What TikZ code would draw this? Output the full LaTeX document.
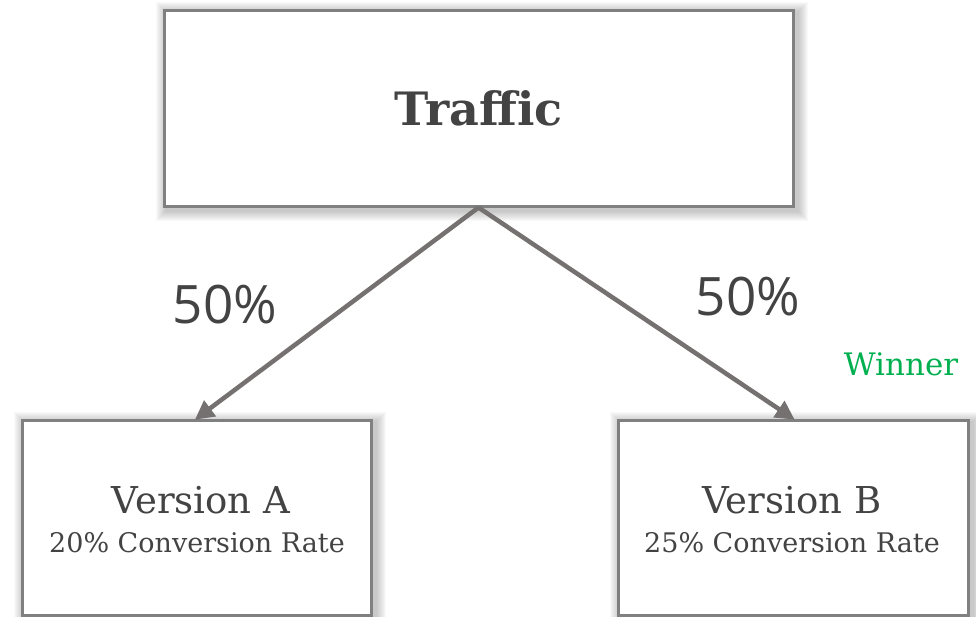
\documentclass[tikz,border=0pt]{standalone}
\usepackage{fontspec}
\setmainfont{DejaVu Serif}
\newfontfamily\labelfont{Open Sans}
\usetikzlibrary{arrows.meta,calc}
\definecolor{boxgray}{HTML}{808080}
\definecolor{arrgray}{HTML}{767171}
\definecolor{txtgray}{HTML}{434343}
\definecolor{wingreen}{HTML}{00B050}
\pgfdeclarelayer{background}
\pgfsetlayers{background,main}
\tikzset{
  box/.style={draw=boxgray, line width=3pt, fill=white, text=txtgray, inner sep=0pt},
  conn/.style={draw=arrgray, line width=4.5pt, -{Triangle[length=19pt,width=19pt]}, shorten >=-2pt},
  pct/.style={text=txtgray, font=\labelfont\fontsize{53}{60}\selectfont, inner sep=0pt},
  title/.style={text=txtgray, font=\fontsize{37}{44}\selectfont, inner sep=0pt, anchor=base},
  rate/.style={text=txtgray, font=\fontsize{27}{32}\selectfont, inner sep=0pt, anchor=base},
}
\newcommand{\myshadow}[1]{%
  \begin{pgfonlayer}{background}
  \foreach \s in {1,...,10}{
    \fill[black, opacity=0.022] ($(#1.south west)+(-\s+3,\s+3)$) rectangle ($(#1.north east)+(\s+3,-\s+3)$);
  }
  \end{pgfonlayer}}
\begin{document}
\begin{tikzpicture}[x=1pt,y=-1pt]
\useasboundingbox (0,0) rectangle (976,616);
\node[box, minimum width=629pt, minimum height=196pt, font=\bfseries\fontsize{46}{54}\selectfont] (traffic) at (478.5,108) {Traffic};
\node[box, minimum width=349pt, minimum height=195pt] (va) at (196.5,517.5) {};
\node[box, minimum width=350pt, minimum height=195pt] (vb) at (793,517.5) {};
\node[title] (vat) at (201,513) {Version A};
\node[rate] (var) at (197,552) {20\% Conversion Rate};
\node[title] (vbt) at (792,513) {Version B};
\node[rate] (vbr) at (792,552) {25\% Conversion Rate};
\myshadow{traffic}
\myshadow{va}
\myshadow{vb}
\draw[conn] (traffic.south) -- (va.north);
\draw[conn] (traffic.south) -- (vb.north);
\node[pct] (pa) at (225,305) {50\%};
\node[pct] (pb) at (748,297) {50\%};
\node[text=wingreen, font=\fontsize{31}{36}\selectfont, inner sep=0pt] (win) at (901,364) {Winner};
\end{tikzpicture}
\end{document}
